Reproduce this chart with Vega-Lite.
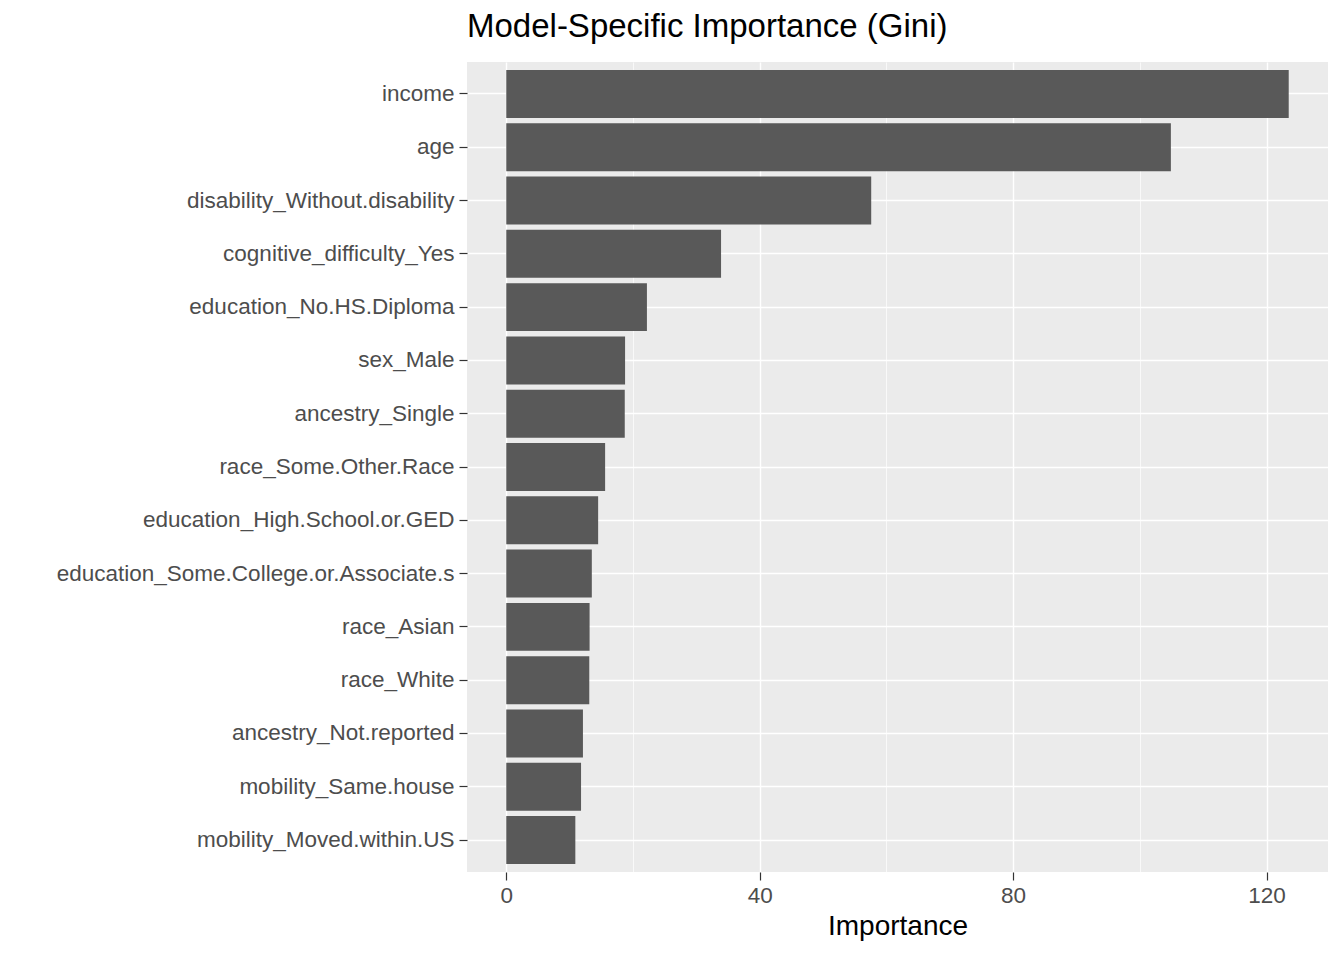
{
  "$schema": "https://vega.github.io/schema/vega-lite/v6.json",
  "autosize": "none",
  "width": 861,
  "height": 810,
  "padding": {"left": 467, "top": 62, "right": 16, "bottom": 88},
  "background": "white",
  "config": {
    "font": "Liberation Sans",
    "view": {"fill": "#EBEBEB", "stroke": null}
  },
  "title": {
    "text": "Model-Specific Importance (Gini)",
    "anchor": "start",
    "frame": "group",
    "fontSize": 33,
    "fontWeight": "normal",
    "color": "black",
    "offset": 18
  },
  "data": {
    "values": [
      {"feature": "income", "importance": 123.5},
      {"feature": "age", "importance": 104.9},
      {"feature": "disability_Without.disability", "importance": 57.6},
      {"feature": "cognitive_difficulty_Yes", "importance": 33.9},
      {"feature": "education_No.HS.Diploma", "importance": 22.2},
      {"feature": "sex_Male", "importance": 18.75},
      {"feature": "ancestry_Single", "importance": 18.7},
      {"feature": "race_Some.Other.Race", "importance": 15.6},
      {"feature": "education_High.School.or.GED", "importance": 14.5},
      {"feature": "education_Some.College.or.Associate.s", "importance": 13.5},
      {"feature": "race_Asian", "importance": 13.15},
      {"feature": "race_White", "importance": 13.1},
      {"feature": "ancestry_Not.reported", "importance": 12.1},
      {"feature": "mobility_Same.house", "importance": 11.8},
      {"feature": "mobility_Moved.within.US", "importance": 10.9}
    ]
  },
  "mark": {"type": "bar", "color": "#595959"},
  "encoding": {
    "y": {
      "field": "feature",
      "type": "nominal",
      "sort": {"field": "importance", "order": "descending"},
      "scale": {"paddingInner": 0.1, "paddingOuter": 0.15},
      "axis": {
        "title": null,
        "domain": false,
        "grid": true,
        "gridColor": "white",
        "gridWidth": 1.4,
        "bandPosition": 0.5,
        "tickColor": "#333333",
        "tickSize": 8,
        "tickWidth": 1.2,
        "labelColor": "#4D4D4D",
        "labelFontSize": 22.5,
        "labelPadding": 5,
        "labelLimit": 500
      }
    },
    "x": {
      "field": "importance",
      "type": "quantitative",
      "scale": {"domain": [-6.2, 129.7], "nice": false, "zero": false},
      "axis": {
        "title": "Importance",
        "titleFontSize": 28,
        "titleFontWeight": "normal",
        "titleColor": "black",
        "titlePadding": 6,
        "values": [0, 20, 40, 60, 80, 100, 120],
        "labelExpr": "datum.value % 40 == 0 ? datum.label : ''",
        "domain": false,
        "grid": true,
        "gridColor": "white",
        "gridWidth": {"condition": {"test": "datum.value % 40 == 0", "value": 1.4}, "value": 0.7},
        "tickColor": "#333333",
        "tickSize": 8,
        "tickWidth": 1.2,
        "tickOpacity": {"condition": {"test": "datum.value % 40 == 0", "value": 1}, "value": 0},
        "labelColor": "#4D4D4D",
        "labelFontSize": 22.5,
        "labelPadding": 4
      }
    }
  }
}
